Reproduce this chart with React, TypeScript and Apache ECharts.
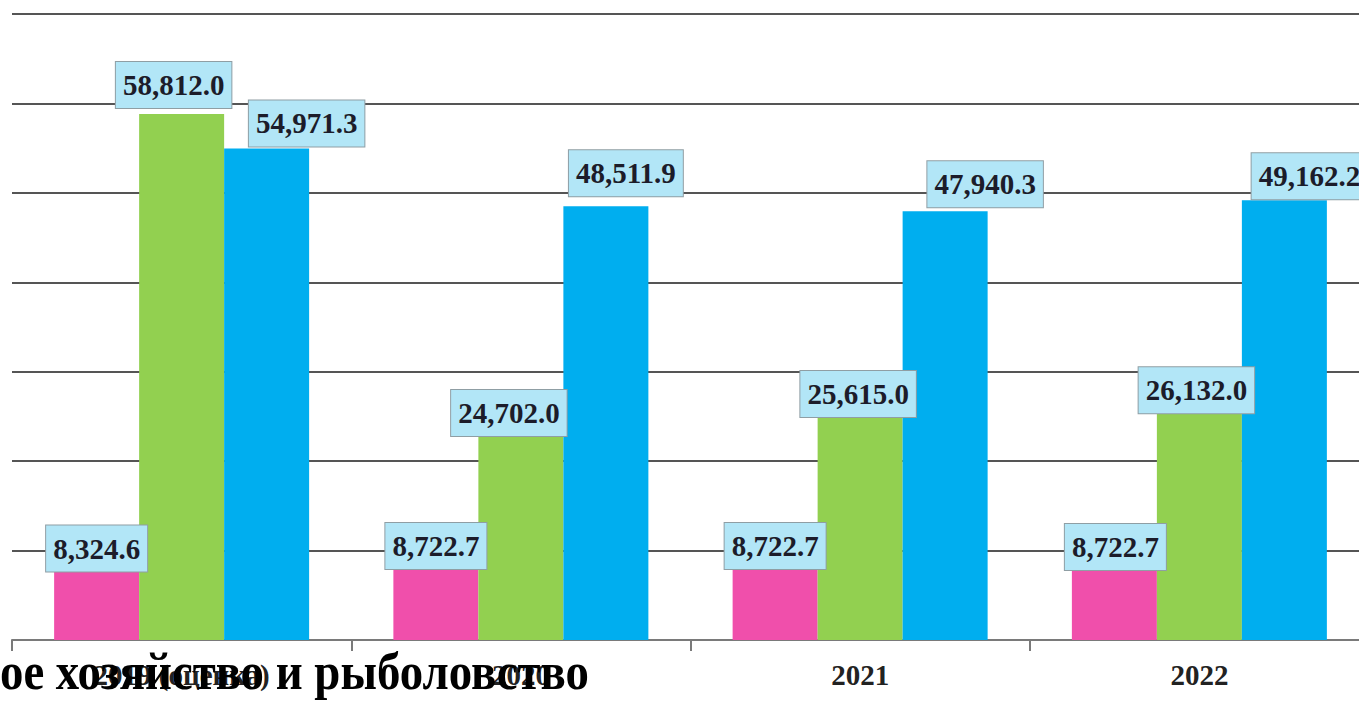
import React, { useEffect, useRef } from "react";
import * as echarts from "echarts";

const categories = ["2019 (оценка)", "2020", "2021", "2022"];
const seriesPink = [8324.6, 8722.7, 8722.7, 8722.7];
const seriesGreen = [58812.0, 24702.0, 25615.0, 26132.0];
const seriesBlue = [54971.3, 48511.9, 47940.3, 49162.2];
const titleText = "ое хозяйство и рыболовство";

// label box offsets [dx, dy] relative to default 'top' position (layout only)
const pinkShift = [[0, 6], [0, 7], [0, 7], [1, 8]];
const greenShift = [[-8, -6], [-12, 17], [-2, 6], [-3, 7]];
const blueShift = [[40, -2], [20, -10], [40, -4], [25, -1]];

const SERIF = '"Liberation Serif", "Times New Roman", serif';

function fmt(v: number) {
  return v.toLocaleString("en-US", { minimumFractionDigits: 1, maximumFractionDigits: 1 });
}

function makeSeries(name: string, values: number[], color: string, shifts: number[][]) {
  return {
    name,
    type: "bar",
    barWidth: 85,
    barGap: "0%",
    itemStyle: { color },
    data: values.map((v, i) => ({ value: v, label: { offset: shifts[i] } })),
    label: {
      show: true,
      position: "top",
      distance: 0,
      formatter: (p: any) => fmt(p.value),
      fontFamily: SERIF,
      fontWeight: "bold",
      fontSize: 29,
      lineHeight: 34,
      color: "#1c1c2a",
      backgroundColor: "#b2e6f7",
      borderColor: "#8f9ea4",
      borderWidth: 1,
      padding: [6, 7, 6, 7],
    },
  };
}

export default function App() {
  const ref = useRef<HTMLDivElement>(null);
  useEffect(() => {
    if (!ref.current) return;
    const chart = echarts.init(ref.current, null, { renderer: "svg" });
    chart.setOption({
      animation: false,
      backgroundColor: "#ffffff",
      grid: { left: 12, right: 1, top: 14, bottom: 61, containLabel: false },
      xAxis: {
        type: "category",
        data: categories,
        boundaryGap: true,
        axisLine: { show: true, lineStyle: { color: "#7a7a7a", width: 2 } },
        axisTick: { show: true, length: 11, lineStyle: { color: "#7a7a7a", width: 2 } },
        axisLabel: {
          margin: 20,
          fontFamily: SERIF,
          fontWeight: "bold",
          fontSize: 29,
          color: "#222222",
        },
      },
      yAxis: {
        type: "value",
        min: 0,
        max: 70000,
        interval: 10000,
        axisLine: { show: false },
        axisTick: { show: false },
        axisLabel: { show: false },
        splitLine: { show: true, lineStyle: { color: "#555555", width: 2 } },
      },
      series: [
        makeSeries("pink", seriesPink, "#f04fab", pinkShift),
        makeSeries("green", seriesGreen, "#92d050", greenShift),
        makeSeries("blue", seriesBlue, "#00aeef", blueShift),
      ],
      graphic: [
        {
          type: "text",
          x: 0,
          y: 672,
          scaleX: 0.9,
          z: 100,
          style: {
            text: titleText,
            font: `bold 52px ${SERIF}`,
            fill: "#000000",
            verticalAlign: "middle",
            align: "left",
          },
        },
      ],
    });
    return () => chart.dispose();
  }, []);
  return (
    <div style={{ position: "fixed", left: 0, top: 0, width: 1359, height: 701, overflow: "hidden" }}>
      <div ref={ref} style={{ position: "absolute", left: 0, top: 0, width: 1370, height: 701 }} />
    </div>
  );
}
